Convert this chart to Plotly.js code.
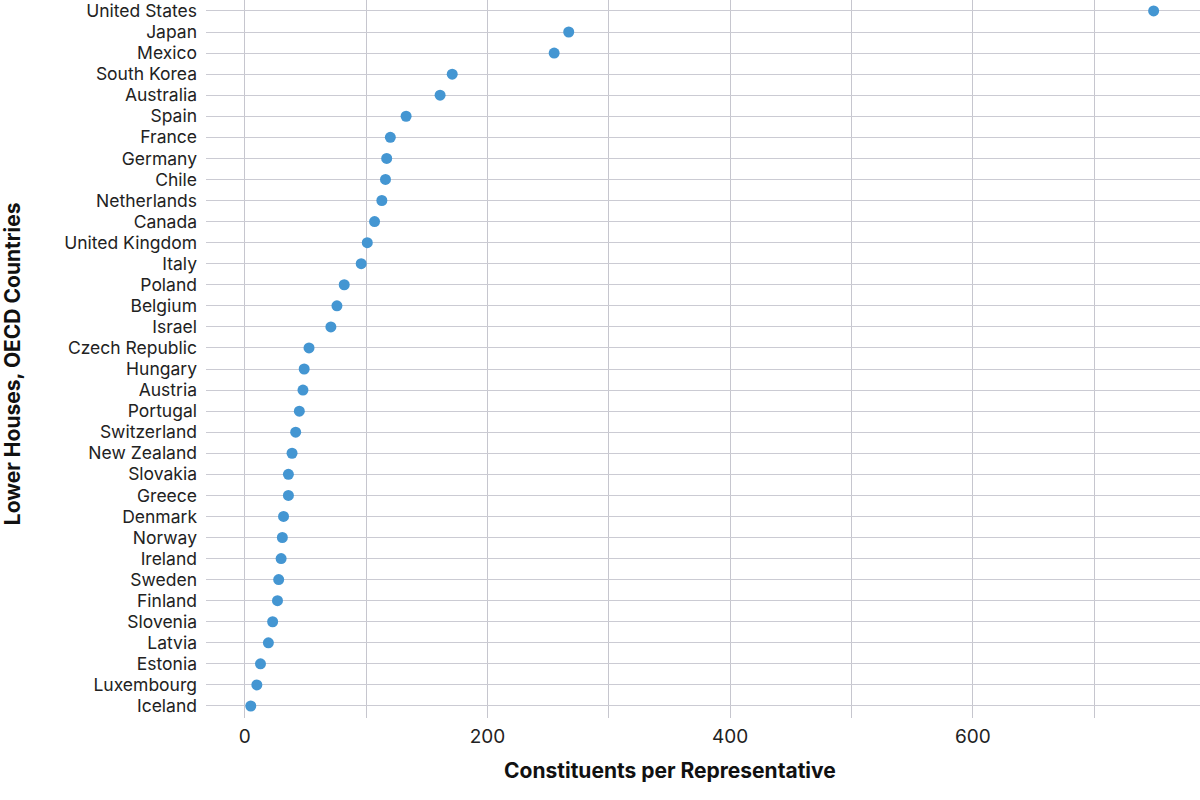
<!DOCTYPE html>
<html>
<head>
<meta charset="utf-8">
<script src="https://cdn.plot.ly/plotly-3.0.1.min.js"></script>
<style>
  html, body { margin: 0; padding: 0; background: #fff; }
  #chart { width: 1200px; height: 800px; }
</style>
</head>
<body>
<div id="chart"></div>
<script>
// Countries, top of chart first
let countries = [
    "United States", "Japan", "Mexico", "South Korea", "Australia", "Spain",
    "France", "Germany", "Chile", "Netherlands", "Canada", "United Kingdom",
    "Italy", "Poland", "Belgium", "Israel", "Czech Republic", "Hungary",
    "Austria", "Portugal", "Switzerland", "New Zealand", "Slovakia", "Greece",
    "Denmark", "Norway", "Ireland", "Sweden", "Finland", "Slovenia",
    "Latvia", "Estonia", "Luxembourg", "Iceland"
];

// Constituents per representative (thousands)
let constituents = [
    749, 267, 255, 171, 161, 133,
    120, 117, 116, 113, 107, 101,
    96, 82, 76, 71, 53, 49,
    48, 45, 42, 39, 36, 36,
    32, 31, 30, 28, 27, 23,
    19.5, 13, 10, 5
];

let xTickVals = [0, 200, 400, 600];
let xTickText = ["0", "200", "400", "600"];

let labelFont = "Inter, 'Open Sans', sans-serif";

let trace1 = {
    x: constituents,
    y: countries,
    mode: "markers",
    type: "scatter",
    marker: {color: "#4496d2", size: 11},
    hoverinfo: "x+y"
};

let layout = {
    width: 1200,
    height: 800,
    margin: {l: 206, r: 0, t: 0, b: 82},
    paper_bgcolor: "#ffffff",
    plot_bgcolor: "#ffffff",
    showlegend: false,
    font: {family: labelFont, size: 18, color: "#222"},
    xaxis: {
        range: [-31.9, 787.2],
        tickvals: xTickVals,
        ticktext: xTickText,
        showgrid: true,
        gridcolor: "#c6c6ce",
        gridwidth: 1,
        minor: {dtick: 100, showgrid: true, gridcolor: "#c6c6ce", gridwidth: 1},
        zeroline: false,
        showline: false,
        ticks: "",
        ticklabelstandoff: 5,
        tickfont: {size: 19, color: "#222"}
    },
    yaxis: {
        type: "category",
        categoryorder: "array",
        categoryarray: countries.slice().reverse(),
        tickmode: "array",
        tickvals: countries,
        ticktext: countries,
        range: [-0.57, 33.52],
        showgrid: true,
        gridcolor: "#cbcbd3",
        gridwidth: 1,
        zeroline: false,
        showline: false,
        ticks: "",
        ticklabelstandoff: 8,
        tickfont: {size: 17.5, color: "#222"}
    },
    annotations: [
        {
            text: "<b>Constituents per Representative</b>",
            xref: "paper", yref: "paper",
            x: 0.467, y: -0.073,
            xanchor: "center", yanchor: "middle",
            showarrow: false,
            font: {family: labelFont, size: 21, color: "#111"}
        },
        {
            text: "<b>Lower Houses, OECD Countries</b>",
            xref: "paper", yref: "paper",
            x: -0.195, y: 0.493,
            xanchor: "center", yanchor: "middle",
            textangle: -90,
            showarrow: false,
            font: {family: labelFont, size: 21, color: "#111"}
        }
    ]
};

Plotly.newPlot("chart", [trace1], layout, {displayModeBar: false});
</script>
</body>
</html>
